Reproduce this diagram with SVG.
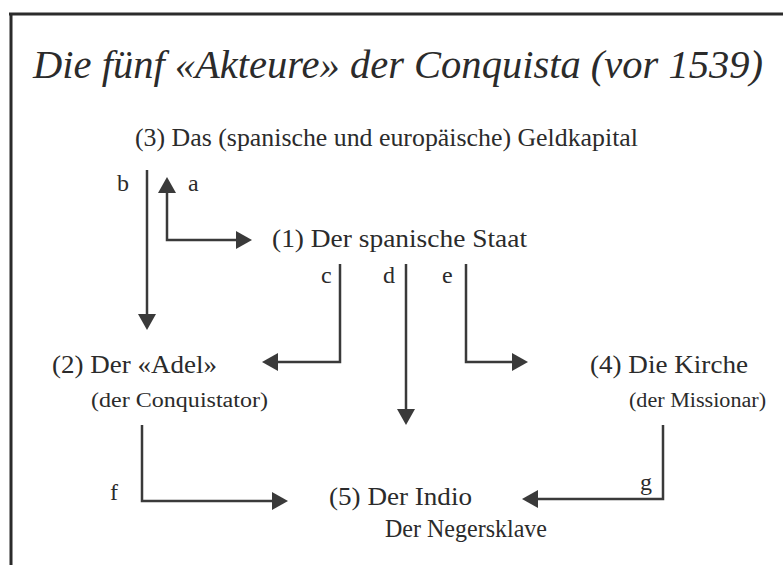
<svg xmlns="http://www.w3.org/2000/svg" width="783" height="565" viewBox="0 0 783 565">
<style>
.t{font-family:"Liberation Serif","Times New Roman",serif;fill:#2b2b2b}
.title{font-size:41px;font-style:italic}
.m{font-size:25px}
.s{font-size:20px}
.l{font-size:24px}
.c{fill:none;stroke:#3a3a3a;stroke-width:2.5}
.frame{fill:none;stroke:#2b2b2b;stroke-width:3}
</style>
<defs>
<marker id="ah" viewBox="0 0 16 18" refX="0" refY="9" markerWidth="16" markerHeight="18" markerUnits="userSpaceOnUse" orient="auto-start-reverse">
<path d="M0 0 L16 9 L0 18 Z" fill="#3a3a3a"/>
</marker>
</defs>
<rect width="783" height="565" fill="#ffffff"/>
<g id="frame">
<path class="frame" d="M9 14 H783 M11 13 V565"/>
</g>
<g id="title">
<text class="t title" x="33" y="78" textLength="730" lengthAdjust="spacingAndGlyphs">Die fünf «Akteure» der Conquista (vor 1539)</text>
</g>
<g id="node3">
<text class="t m" x="135" y="146" textLength="503" lengthAdjust="spacingAndGlyphs">(3) Das (spanische und europäische) Geldkapital</text>
</g>
<g id="node1">
<text class="t m" x="272" y="247" textLength="255" lengthAdjust="spacingAndGlyphs">(1) Der spanische Staat</text>
</g>
<g id="node2">
<text class="t m" x="52" y="373" textLength="165" lengthAdjust="spacingAndGlyphs">(2) Der «Adel»</text>
<text class="t s" x="91" y="407" textLength="177" lengthAdjust="spacingAndGlyphs">(der Conquistator)</text>
</g>
<g id="node4">
<text class="t m" x="590" y="373" textLength="158" lengthAdjust="spacingAndGlyphs">(4) Die Kirche</text>
<text class="t s" x="629" y="407" textLength="137" lengthAdjust="spacingAndGlyphs">(der Missionar)</text>
</g>
<g id="node5">
<text class="t m" x="329" y="505" textLength="143" lengthAdjust="spacingAndGlyphs">(5) Der Indio</text>
<text class="t m" x="385" y="537" textLength="162" lengthAdjust="spacingAndGlyphs">Der Negersklave</text>
</g>
<g id="connectors">
<path class="c" d="M147 170 V314" marker-end="url(#ah)"/>
<path class="c" d="M167 193 V240 H236" marker-start="url(#ah)" marker-end="url(#ah)"/>
<path class="c" d="M340 264 V362 H278" marker-end="url(#ah)"/>
<path class="c" d="M406 264 V409" marker-end="url(#ah)"/>
<path class="c" d="M466 264 V362 H512" marker-end="url(#ah)"/>
<path class="c" d="M142 425 V501 H272" marker-end="url(#ah)"/>
<path class="c" d="M663 425 V499 H538" marker-end="url(#ah)"/>
<text class="t l" x="117" y="191">b</text>
<text class="t l" x="188" y="191">a</text>
<text class="t l" x="321" y="283">c</text>
<text class="t l" x="383" y="283">d</text>
<text class="t l" x="442" y="283">e</text>
<text class="t l" x="110" y="500">f</text>
<text class="t l" x="640" y="490">g</text>
</g>
</svg>
